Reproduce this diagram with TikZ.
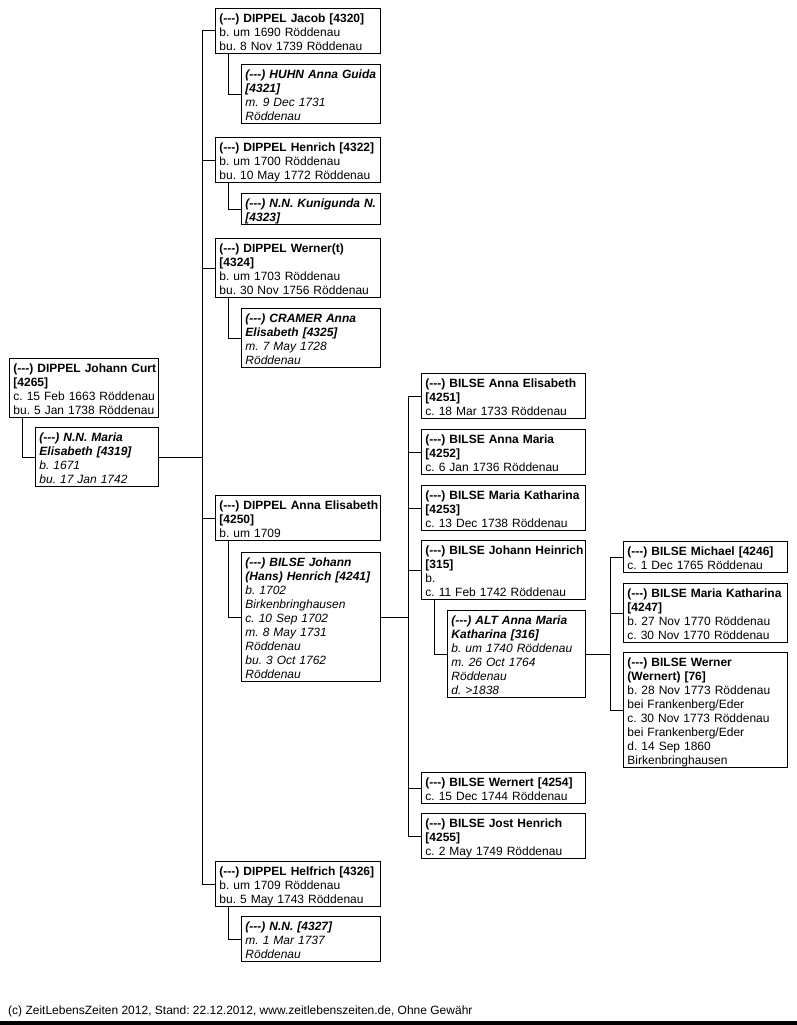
\documentclass[tikz,border=0pt]{standalone}
\usepackage{fontspec}
\setmainfont{Liberation Sans}
\newcommand\dsh{(-\kern0pt-\kern0pt-)}
\begin{document}
\frenchspacing
\begin{tikzpicture}[x=1pt,y=-1pt,
  pbox/.style={draw, line width=0.9pt, anchor=north west, text width=#1, align=left,
    inner xsep=4pt, inner ysep=0pt, font=\fontsize{12}{14}\selectfont,
    execute at begin node={\frenchspacing\hyphenpenalty=10000\exhyphenpenalty=10000\rightskip=0pt plus 1fil minus 6pt\rule{0pt}{14pt}},
    execute at end node={\rule[-3pt]{0pt}{3pt}}},
  conn/.style={line width=0.9pt}]
\useasboundingbox (0,0) rectangle (797,1025);
\fill[white] (0,0) rectangle (797,1025);
% root
\node[pbox=141pt] (G) at (9,358) {\textbf{\dsh{} DIPPEL Johann Curt}\\\textbf{[4265]}\\c. 15 Feb 1663 Röddenau\\bu. 5 Jan 1738 Röddenau};
\node[pbox=115pt] (H) at (35,427) {\textbf{\textit{\dsh{} N.N. Maria}}\\\textbf{\textit{Elisabeth [4319]}}\\\textit{b. 1671}\\\textit{bu. 17 Jan 1742}};
% children column
\node[pbox=157pt] (A) at (215,8) {\textbf{\dsh{} DIPPEL Jacob [4320]}\\b. um 1690 Röddenau\\bu. 8 Nov 1739 Röddenau};
\node[pbox=131pt] (B) at (241,64) {\textbf{\textit{\dsh{} HUHN Anna Guida}}\\\textbf{\textit{[4321]}}\\\textit{m. 9 Dec 1731}\\\textit{Röddenau}};
\node[pbox=157pt] (C) at (215,137) {\textbf{\dsh{} DIPPEL Henrich [4322]}\\b. um 1700 Röddenau\\bu. 10 May 1772 Röddenau};
\node[pbox=131pt] (D) at (241,193) {\textbf{\textit{\dsh{} N.N. Kunigunda N.}}\\\textbf{\textit{[4323]}}};
\node[pbox=157pt] (E) at (215,238) {\textbf{\dsh{} DIPPEL Werner(t)}\\\textbf{[4324]}\\b. um 1703 Röddenau\\bu. 30 Nov 1756 Röddenau};
\node[pbox=131pt] (F) at (241,308) {\textbf{\textit{\dsh{} CRAMER Anna}}\\\textbf{\textit{Elisabeth [4325]}}\\\textit{m. 7 May 1728}\\\textit{Röddenau}};
\node[pbox=157pt] (I) at (215,495) {\textbf{\dsh{} DIPPEL Anna Elisabeth}\\\textbf{[4250]}\\b. um 1709};
\node[pbox=131pt] (J) at (241,552) {\textbf{\textit{\dsh{} BILSE Johann}}\\\textbf{\textit{(Hans) Henrich [4241]}}\\\textit{b. 1702}\\\textit{Birkenbringhausen}\\\textit{c. 10 Sep 1702}\\\textit{m. 8 May 1731}\\\textit{Röddenau}\\\textit{bu. 3 Oct 1762}\\\textit{Röddenau}};
\node[pbox=157pt] (K) at (215,861) {\textbf{\dsh{} DIPPEL Helfrich [4326]}\\b. um 1709 Röddenau\\bu. 5 May 1743 Röddenau};
\node[pbox=131pt] (L) at (241,916) {\textbf{\textit{\dsh{} N.N. [4327]}}\\\textit{m. 1 Mar 1737}\\\textit{Röddenau}};
% grandchildren column
\node[pbox=156pt] (M) at (421,373) {\textbf{\dsh{} BILSE Anna Elisabeth}\\\textbf{[4251]}\\c. 18 Mar 1733 Röddenau};
\node[pbox=156pt] (N) at (421,429) {\textbf{\dsh{} BILSE Anna Maria}\\\textbf{[4252]}\\c. 6 Jan 1736 Röddenau};
\node[pbox=156pt] (O) at (421,485) {\textbf{\dsh{} BILSE Maria Katharina}\\\textbf{[4253]}\\c. 13 Dec 1738 Röddenau};
\node[pbox=156pt] (P) at (421,540) {\textbf{\dsh{} BILSE Johann Heinrich}\\\textbf{[315]}\\b.\\c. 11 Feb 1742 Röddenau};
\node[pbox=130pt] (Q) at (447,610) {\textbf{\textit{\dsh{} ALT Anna Maria}}\\\textbf{\textit{Katharina [316]}}\\\textit{b. um 1740 Röddenau}\\\textit{m. 26 Oct 1764}\\\textit{Röddenau}\\\textit{d. >1838}};
\node[pbox=156pt] (R) at (421,772) {\textbf{\dsh{} BILSE Wernert [4254]}\\c. 15 Dec 1744 Röddenau};
\node[pbox=156pt] (S) at (421,813) {\textbf{\dsh{} BILSE Jost Henrich}\\\textbf{[4255]}\\c. 2 May 1749 Röddenau};
% great-grandchildren column
\node[pbox=156pt] (T) at (623,541) {\textbf{\dsh{} BILSE Michael [4246]}\\c. 1 Dec 1765 Röddenau};
\node[pbox=156pt] (U) at (623,583) {\textbf{\dsh{} BILSE Maria Katharina}\\\textbf{[4247]}\\b. 27 Nov 1770 Röddenau\\c. 30 Nov 1770 Röddenau};
\node[pbox=156pt] (V) at (623,652) {\textbf{\dsh{} BILSE Werner}\\\textbf{(Wernert) [76]}\\b. 28 Nov 1773 Röddenau\\bei Frankenberg/Eder\\c. 30 Nov 1773 Röddenau\\bei Frankenberg/Eder\\d. 14 Sep 1860\\Birkenbringhausen};
% bus coordinates
\coordinate (b1) at (202,0);
\coordinate (b2) at (408,0);
\coordinate (b3) at (610,0);
% connectors
\draw[conn] ([xshift=13pt]G.south west) |- (H.west);
\draw[conn] (H.east) -- (H.east -| b1);
\draw[conn] (A.west) -| (b1 |- K.west) -- (K.west);
\draw[conn] (C.west) -- (C.west -| b1);
\draw[conn] (E.west) -- (E.west -| b1);
\draw[conn] (I.west) -- (I.west -| b1);
\draw[conn] ([xshift=13pt]A.south west) |- (B.west);
\draw[conn] ([xshift=13pt]C.south west) |- (D.west);
\draw[conn] ([xshift=13pt]E.south west) |- (F.west);
\draw[conn] ([xshift=13pt]I.south west) |- (J.west);
\draw[conn] ([xshift=13pt]K.south west) |- (L.west);
\draw[conn] (J.east) -- (J.east -| b2);
\draw[conn] (M.west) -| (b2 |- S.west) -- (S.west);
\draw[conn] (N.west) -- (N.west -| b2);
\draw[conn] (O.west) -- (O.west -| b2);
\draw[conn] (P.west) -- (P.west -| b2);
\draw[conn] (R.west) -- (R.west -| b2);
\draw[conn] ([xshift=13pt]P.south west) |- (Q.west);
\draw[conn] (Q.east) -- (Q.east -| b3);
\draw[conn] (T.west) -| (b3 |- V.west) -- (V.west);
\draw[conn] (U.west) -- (U.west -| b3);
% footer
\node[anchor=base west, inner sep=0pt, font=\fontsize{12}{14}\selectfont] (foot) at (8,1014) {(c) ZeitLebensZeiten 2012, Stand: 22.12.2012, www.zeitlebenszeiten.de, Ohne Gewähr};
\fill[black] (0,1021) rectangle (797,1025);
\end{tikzpicture}
\end{document}
